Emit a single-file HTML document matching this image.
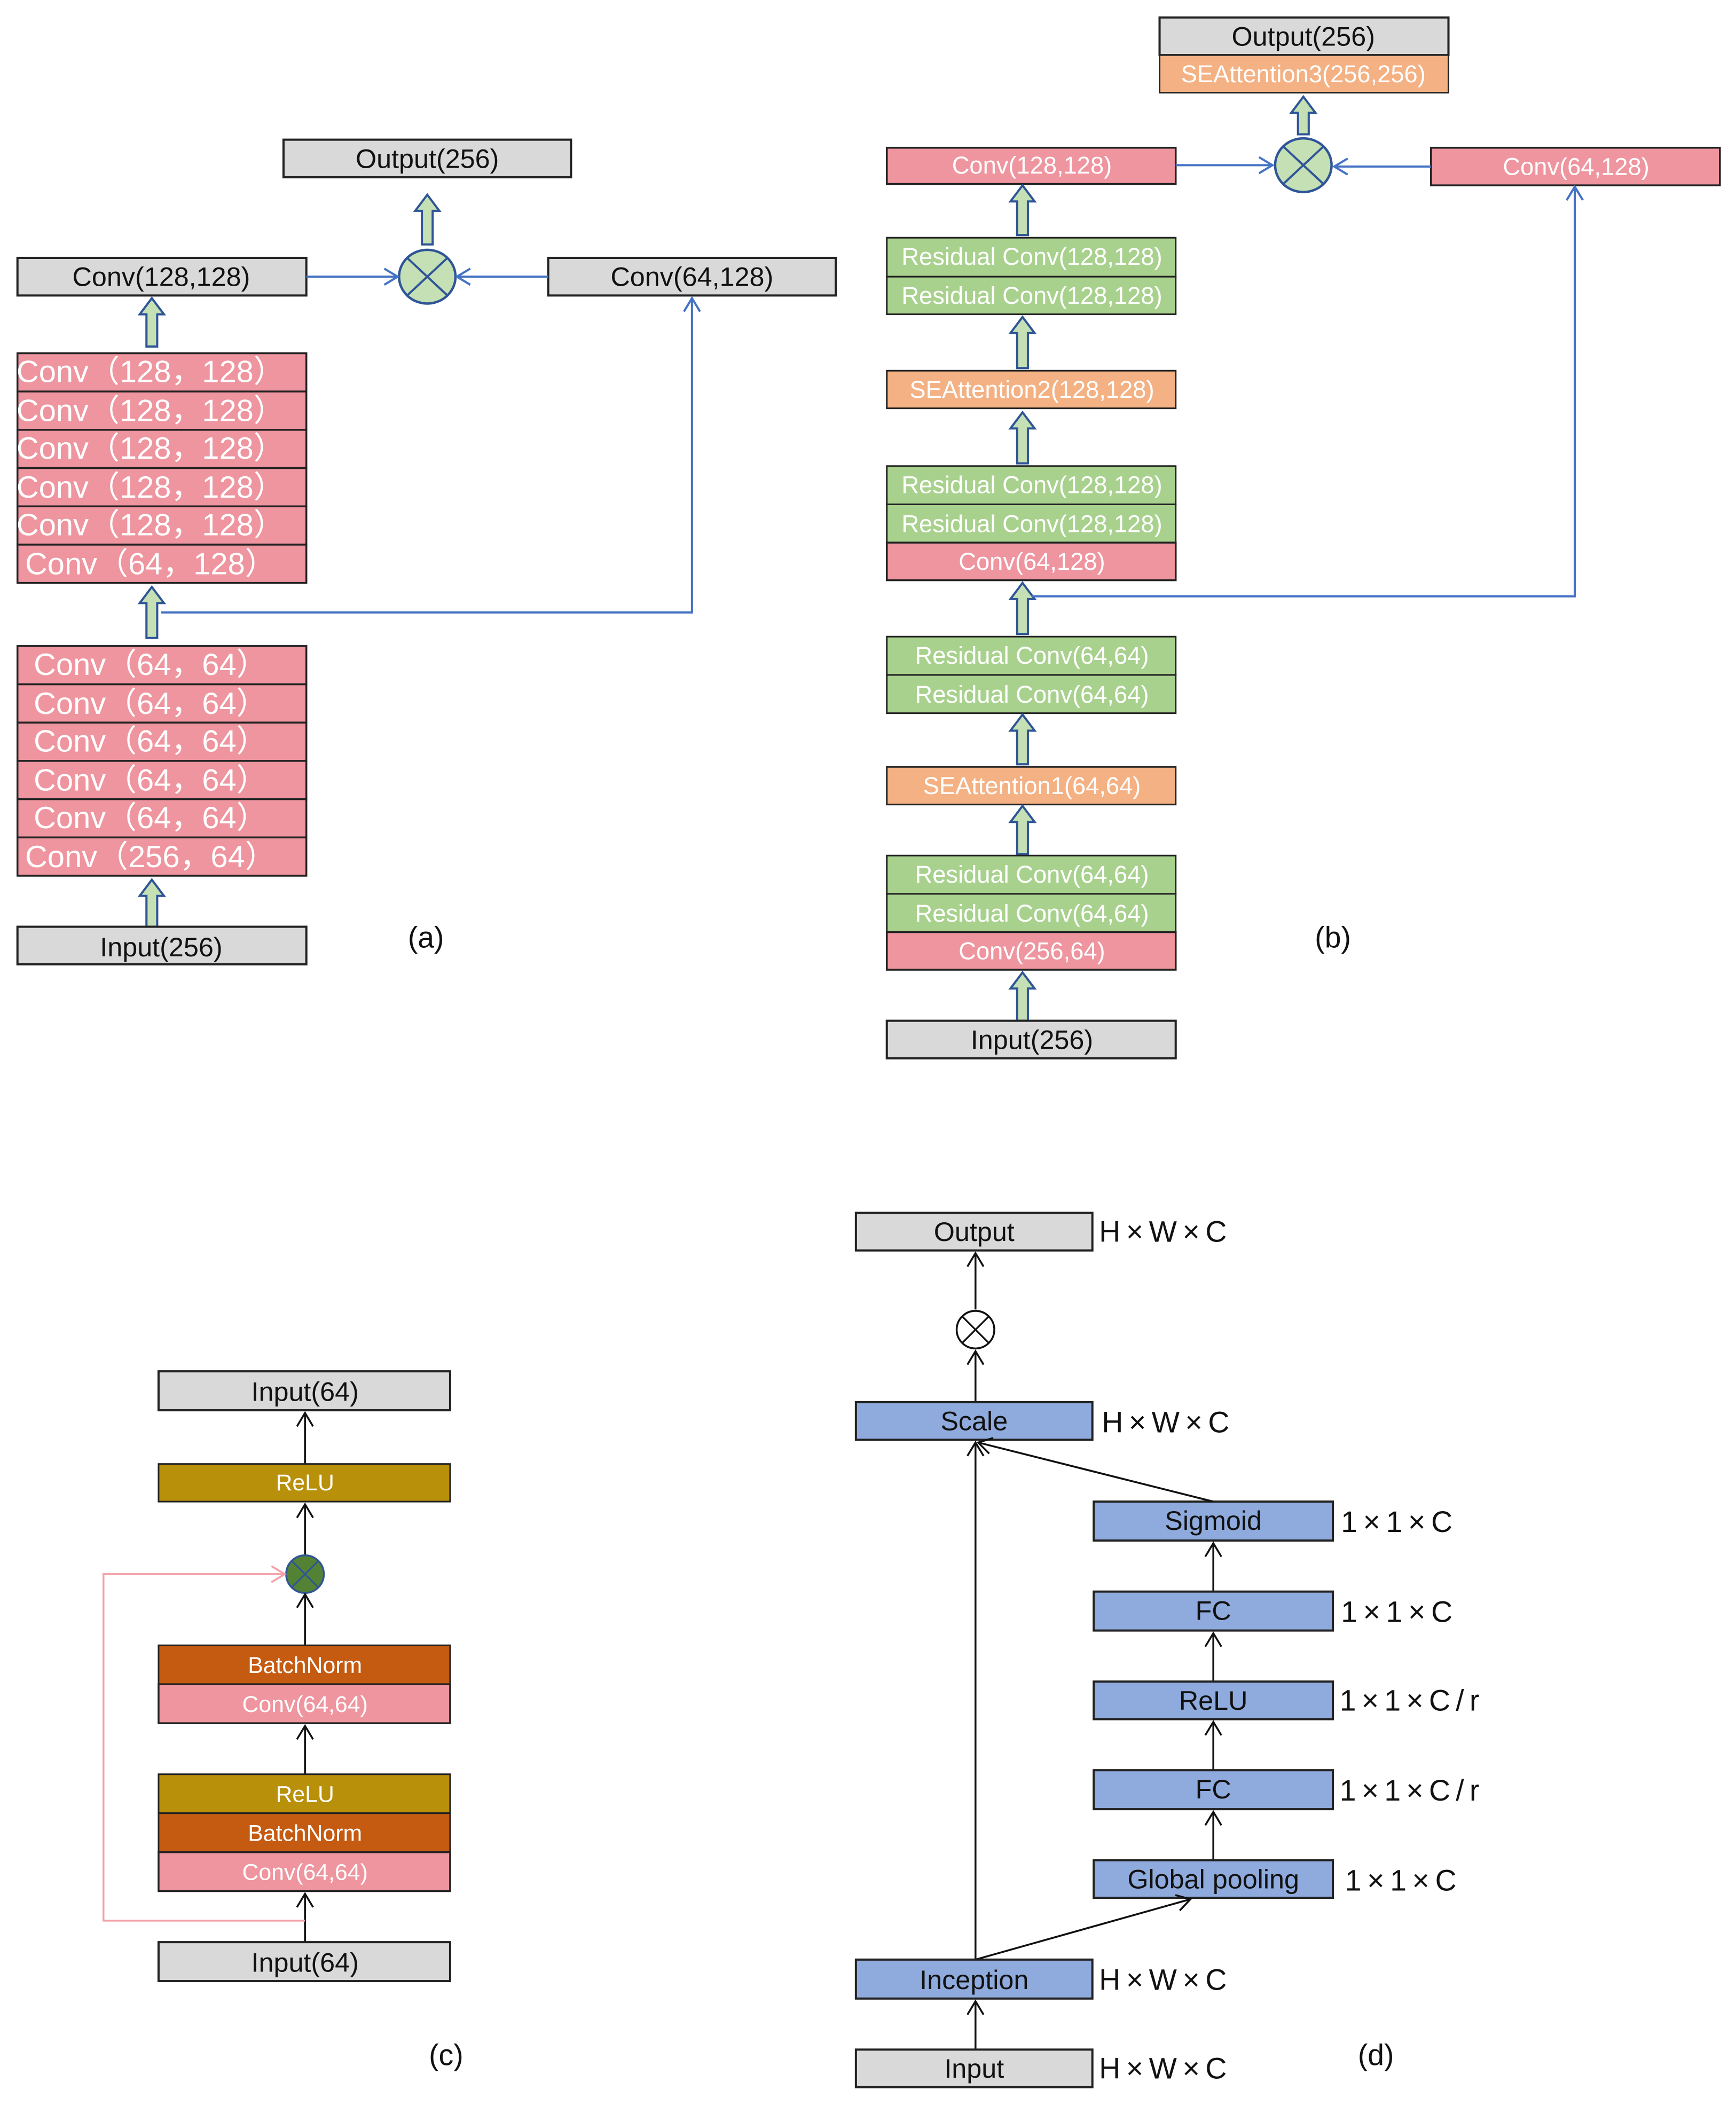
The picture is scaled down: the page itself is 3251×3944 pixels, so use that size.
<!DOCTYPE html>
<html><head><meta charset="utf-8"><style>
html,body{margin:0;padding:0;background:#fff;}
svg{display:block;}
text{font-family:"Liberation Sans Narrow","Liberation Sans",sans-serif;text-anchor:middle;dominant-baseline:central;}
.w{fill:#fff;} .k{fill:#111;}
.s{text-anchor:start;}
.g{fill:#d9d9d9;stroke:#222;stroke-width:1.6;}
.p{fill:#ee959f;stroke:#222;stroke-width:1.4;}
.gr{fill:#a9d18e;stroke:#222;stroke-width:1.2;}
.o{fill:#f4b183;stroke:#222;stroke-width:1.2;}
.b{fill:#8faadc;stroke:#222;stroke-width:1.6;}
.y{fill:#b8900a;stroke:#222;stroke-width:1.2;}
.br{fill:#c55a11;stroke:#222;stroke-width:1.2;}
.ba{fill:#c5e0b4;stroke:#2f5597;stroke-width:1.6;}
.bl{stroke:#4472c4;stroke-width:1.6;fill:none;}
.kl{stroke:#111;stroke-width:1.4;fill:none;}
</style></head><body>
<svg width="3251" height="3944" viewBox="0 0 1292 1568" preserveAspectRatio="none" xmlns="http://www.w3.org/2000/svg">
<defs>
<marker id="ab" markerWidth="14" markerHeight="14" refX="11" refY="7" orient="auto" markerUnits="userSpaceOnUse"><path d="M1,1 L11,7 L1,13" fill="none" stroke="#4472c4" stroke-width="1.6"/></marker>
<marker id="ak" markerWidth="14" markerHeight="14" refX="11" refY="7" orient="auto" markerUnits="userSpaceOnUse"><path d="M1,1 L11,7 L1,13" fill="none" stroke="#111" stroke-width="1.4"/></marker>
<marker id="ap" markerWidth="14" markerHeight="14" refX="11" refY="7" orient="auto" markerUnits="userSpaceOnUse"><path d="M1,1 L11,7 L1,13" fill="none" stroke="#f4a0a8" stroke-width="1.4"/></marker>
</defs>

<!-- ===== (a) ===== -->
<rect class="g" x="211" y="104" width="214" height="28"/><text class="k" x="318" y="118" font-size="20">Output(256)</text>
<polygon class="ba" points="314,182 314,157 309,157 318,145 327,157 322,157 322,182"/>
<ellipse cx="318" cy="206" rx="21" ry="20" fill="#c5e0b4" stroke="#2f5597" stroke-width="1.8"/>
<line x1="303" y1="192" x2="333" y2="220" stroke="#2f5597" stroke-width="1.6"/><line x1="333" y1="192" x2="303" y2="220" stroke="#2f5597" stroke-width="1.6"/>
<rect class="g" x="13" y="192" width="215" height="28"/><text class="k" x="120" y="206" font-size="20">Conv(128,128)</text>
<rect class="g" x="408" y="192" width="214" height="28"/><text class="k" x="515" y="206" font-size="20">Conv(64,128)</text>
<line class="bl" x1="228" y1="206" x2="296" y2="206" marker-end="url(#ab)"/>
<line class="bl" x1="408" y1="206" x2="340" y2="206" marker-end="url(#ab)"/>
<polygon class="ba" points="109,258 109,234 104,234 113,222 122,234 117,234 117,258"/>
<rect class="p" x="13" y="263" width="215" height="28.5"/><text class="w" x="112" y="277" font-size="23">Conv（128，128）</text>
<rect class="p" x="13" y="291.5" width="215" height="28.5"/><text class="w" x="112" y="306" font-size="23">Conv（128，128）</text>
<rect class="p" x="13" y="320" width="215" height="28.5"/><text class="w" x="112" y="334" font-size="23">Conv（128，128）</text>
<rect class="p" x="13" y="348.5" width="215" height="28.5"/><text class="w" x="112" y="363" font-size="23">Conv（128，128）</text>
<rect class="p" x="13" y="377" width="215" height="28.5"/><text class="w" x="112" y="391" font-size="23">Conv（128，128）</text>
<rect class="p" x="13" y="405.5" width="215" height="28.5"/><text class="w" x="112" y="420" font-size="23">Conv（64，128）</text>
<polygon class="ba" points="109,475 109,449 104,449 113,437 122,449 117,449 117,475"/>
<polyline class="bl" points="120,456 515,456 515,222" marker-end="url(#ab)"/>
<rect class="p" x="13" y="481" width="215" height="28.5"/><text class="w" x="112" y="495" font-size="23">Conv（64，64）</text>
<rect class="p" x="13" y="509.5" width="215" height="28.5"/><text class="w" x="112" y="524" font-size="23">Conv（64，64）</text>
<rect class="p" x="13" y="538" width="215" height="28.5"/><text class="w" x="112" y="552" font-size="23">Conv（64，64）</text>
<rect class="p" x="13" y="566.5" width="215" height="28.5"/><text class="w" x="112" y="581" font-size="23">Conv（64，64）</text>
<rect class="p" x="13" y="595" width="215" height="28.5"/><text class="w" x="112" y="609" font-size="23">Conv（64，64）</text>
<rect class="p" x="13" y="623.5" width="215" height="28.5"/><text class="w" x="112" y="638" font-size="23">Conv（256，64）</text>
<polygon class="ba" points="109,690 109,667 104,667 113,655 122,667 117,667 117,690"/>
<rect class="g" x="13" y="690" width="215" height="28"/><text class="k" x="120" y="705" font-size="20">Input(256)</text>
<text class="k" x="317" y="698" font-size="22">(a)</text>

<!-- ===== (b) ===== -->
<rect class="g" x="863" y="13" width="215" height="28"/><text class="k" x="970" y="27" font-size="20">Output(256)</text>
<rect class="o" x="863" y="41" width="215" height="28"/><text class="w" x="970" y="55" font-size="18">SEAttention3(256,256)</text>
<polygon class="ba" points="966,100 966,84 961,84 970,72 979,84 974,84 974,100"/>
<ellipse cx="970" cy="123" rx="21" ry="20" fill="#c5e0b4" stroke="#2f5597" stroke-width="1.8"/>
<line x1="955" y1="109" x2="985" y2="137" stroke="#2f5597" stroke-width="1.6"/><line x1="985" y1="109" x2="955" y2="137" stroke="#2f5597" stroke-width="1.6"/>
<rect class="p" x="660" y="110" width="215" height="27"/><text class="w" x="768" y="123" font-size="18">Conv(128,128)</text>
<rect class="p" x="1065" y="110" width="215" height="28"/><text class="w" x="1173" y="124" font-size="18">Conv(64,128)</text>
<line class="bl" x1="875" y1="123" x2="947" y2="123" marker-end="url(#ab)"/>
<line class="bl" x1="1065" y1="124" x2="993" y2="124" marker-end="url(#ab)"/>
<polygon class="ba" points="757,175 757,150 752,150 761,138 770,150 765,150 765,175"/>
<rect class="gr" x="660" y="177" width="215" height="29"/><text class="w" x="768" y="191" font-size="18">Residual Conv(128,128)</text>
<rect class="gr" x="660" y="206" width="215" height="28"/><text class="w" x="768" y="220" font-size="18">Residual Conv(128,128)</text>
<polygon class="ba" points="757,274 757,248 752,248 761,236 770,248 765,248 765,274"/>
<rect class="o" x="660" y="276" width="215" height="28"/><text class="w" x="768" y="290" font-size="18">SEAttention2(128,128)</text>
<polygon class="ba" points="757,345 757,319 752,319 761,307 770,319 765,319 765,345"/>
<rect class="gr" x="660" y="347" width="215" height="28.5"/><text class="w" x="768" y="361" font-size="18">Residual Conv(128,128)</text>
<rect class="gr" x="660" y="375.5" width="215" height="28.5"/><text class="w" x="768" y="390" font-size="18">Residual Conv(128,128)</text>
<rect class="p" x="660" y="404" width="215" height="28"/><text class="w" x="768" y="418" font-size="18">Conv(64,128)</text>
<polygon class="ba" points="757,472 757,446 752,446 761,434 770,446 765,446 765,472"/>
<polyline class="bl" points="768,444 1172,444 1172,139" marker-end="url(#ab)"/>
<rect class="gr" x="660" y="474" width="215" height="28.5"/><text class="w" x="768" y="488" font-size="18">Residual Conv(64,64)</text>
<rect class="gr" x="660" y="502.5" width="215" height="28.5"/><text class="w" x="768" y="517" font-size="18">Residual Conv(64,64)</text>
<polygon class="ba" points="757,569 757,544 752,544 761,532 770,544 765,544 765,569"/>
<rect class="o" x="660" y="571" width="215" height="28"/><text class="w" x="768" y="585" font-size="18">SEAttention1(64,64)</text>
<polygon class="ba" points="757,636 757,612 752,612 761,600 770,612 765,612 765,636"/>
<rect class="gr" x="660" y="637" width="215" height="28.5"/><text class="w" x="768" y="651" font-size="18">Residual Conv(64,64)</text>
<rect class="gr" x="660" y="665.5" width="215" height="28.5"/><text class="w" x="768" y="680" font-size="18">Residual Conv(64,64)</text>
<rect class="p" x="660" y="694" width="215" height="28"/><text class="w" x="768" y="708" font-size="18">Conv(256,64)</text>
<polygon class="ba" points="757,760 757,736 752,736 761,724 770,736 765,736 765,760"/>
<rect class="g" x="660" y="760" width="215" height="28"/><text class="k" x="768" y="774" font-size="20">Input(256)</text>
<text class="k" x="992" y="698" font-size="22">(b)</text>

<!-- ===== (c) ===== -->
<rect class="g" x="118" y="1021" width="217" height="29"/><text class="k" x="227" y="1036" font-size="20">Input(64)</text>
<line class="kl" x1="227" y1="1090" x2="227" y2="1052" marker-end="url(#ak)"/>
<rect class="y" x="118" y="1090" width="217" height="28"/><text class="w" x="227" y="1104" font-size="17">ReLU</text>
<line class="kl" x1="227" y1="1158" x2="227" y2="1120" marker-end="url(#ak)"/>
<ellipse cx="227" cy="1172" rx="14" ry="14" fill="#548235" stroke="#2f5597" stroke-width="1.4"/>
<line x1="217" y1="1162" x2="237" y2="1182" stroke="#2f5597" stroke-width="1.2"/><line x1="237" y1="1162" x2="217" y2="1182" stroke="#2f5597" stroke-width="1.2"/>
<line class="kl" x1="227" y1="1225" x2="227" y2="1187" marker-end="url(#ak)"/>
<rect class="br" x="118" y="1225" width="217" height="29"/><text class="w" x="227" y="1240" font-size="17">BatchNorm</text>
<rect class="p" x="118" y="1254" width="217" height="29"/><text class="w" x="227" y="1269" font-size="17">Conv(64,64)</text>
<line class="kl" x1="227" y1="1321" x2="227" y2="1285" marker-end="url(#ak)"/>
<rect class="y" x="118" y="1321" width="217" height="29"/><text class="w" x="227" y="1336" font-size="17">ReLU</text>
<rect class="br" x="118" y="1350" width="217" height="29"/><text class="w" x="227" y="1365" font-size="17">BatchNorm</text>
<rect class="p" x="118" y="1379" width="217" height="29"/><text class="w" x="227" y="1394" font-size="17">Conv(64,64)</text>
<line class="kl" x1="227" y1="1446" x2="227" y2="1410" marker-end="url(#ak)"/>
<polyline points="227,1430 77,1430 77,1172 212,1172" fill="none" stroke="#f4a0a8" stroke-width="1.4" marker-end="url(#ap)"/>
<rect class="g" x="118" y="1446" width="217" height="29"/><text class="k" x="227" y="1461" font-size="20">Input(64)</text>
<text class="k" x="332" y="1530" font-size="22">(c)</text>

<!-- ===== (d) ===== -->
<rect class="g" x="637" y="903" width="176" height="28"/><text class="k" x="725" y="917" font-size="20">Output</text>
<text class="k s" x="818" y="917" font-size="22" textLength="95">H×W×C</text>
<line class="kl" x1="726" y1="975" x2="726" y2="933" marker-end="url(#ak)"/>
<ellipse cx="726" cy="990" rx="14" ry="14" fill="#fff" stroke="#111" stroke-width="1.4"/>
<line x1="716" y1="980" x2="736" y2="1000" stroke="#111" stroke-width="1.3"/><line x1="736" y1="980" x2="716" y2="1000" stroke="#111" stroke-width="1.3"/>
<line class="kl" x1="726" y1="1044" x2="726" y2="1006" marker-end="url(#ak)"/>
<rect class="b" x="637" y="1044" width="176" height="28"/><text class="k" x="725" y="1058" font-size="20">Scale</text>
<text class="k s" x="820" y="1059" font-size="22" textLength="95">H×W×C</text>
<rect class="b" x="814" y="1118" width="178" height="29"/><text class="k" x="903" y="1132" font-size="20">Sigmoid</text>
<text class="k s" x="998" y="1133" font-size="22" textLength="83">1×1×C</text>
<line class="kl" x1="903" y1="1185" x2="903" y2="1149" marker-end="url(#ak)"/>
<rect class="b" x="814" y="1185" width="178" height="29"/><text class="k" x="903" y="1199" font-size="20">FC</text>
<text class="k s" x="998" y="1200" font-size="22" textLength="83">1×1×C</text>
<line class="kl" x1="903" y1="1252" x2="903" y2="1216" marker-end="url(#ak)"/>
<rect class="b" x="814" y="1252" width="178" height="28"/><text class="k" x="903" y="1266" font-size="20">ReLU</text>
<text class="k s" x="997" y="1266" font-size="22" textLength="104">1×1×C/r</text>
<line class="kl" x1="903" y1="1318" x2="903" y2="1282" marker-end="url(#ak)"/>
<rect class="b" x="814" y="1318" width="178" height="29"/><text class="k" x="903" y="1332" font-size="20">FC</text>
<text class="k s" x="997" y="1333" font-size="22" textLength="104">1×1×C/r</text>
<line class="kl" x1="903" y1="1385" x2="903" y2="1349" marker-end="url(#ak)"/>
<rect class="b" x="814" y="1385" width="178" height="28"/><text class="k" x="903" y="1399" font-size="20">Global pooling</text>
<text class="k s" x="1001" y="1400" font-size="22" textLength="83">1×1×C</text>
<line class="kl" x1="726" y1="1459" x2="726" y2="1074" marker-end="url(#ak)"/>
<line class="kl" x1="726" y1="1459" x2="886" y2="1414" marker-end="url(#ak)"/>
<line class="kl" x1="903" y1="1118" x2="728" y2="1074" marker-end="url(#ak)"/>
<rect class="b" x="637" y="1459" width="176" height="29"/><text class="k" x="725" y="1474" font-size="20">Inception</text>
<text class="k s" x="818" y="1474" font-size="22" textLength="95">H×W×C</text>
<line class="kl" x1="726" y1="1526" x2="726" y2="1490" marker-end="url(#ak)"/>
<rect class="g" x="637" y="1526" width="176" height="28"/><text class="k" x="725" y="1540" font-size="20">Input</text>
<text class="k s" x="818" y="1540" font-size="22" textLength="95">H×W×C</text>
<text class="k" x="1024" y="1530" font-size="22">(d)</text>
</svg>
</body></html>
